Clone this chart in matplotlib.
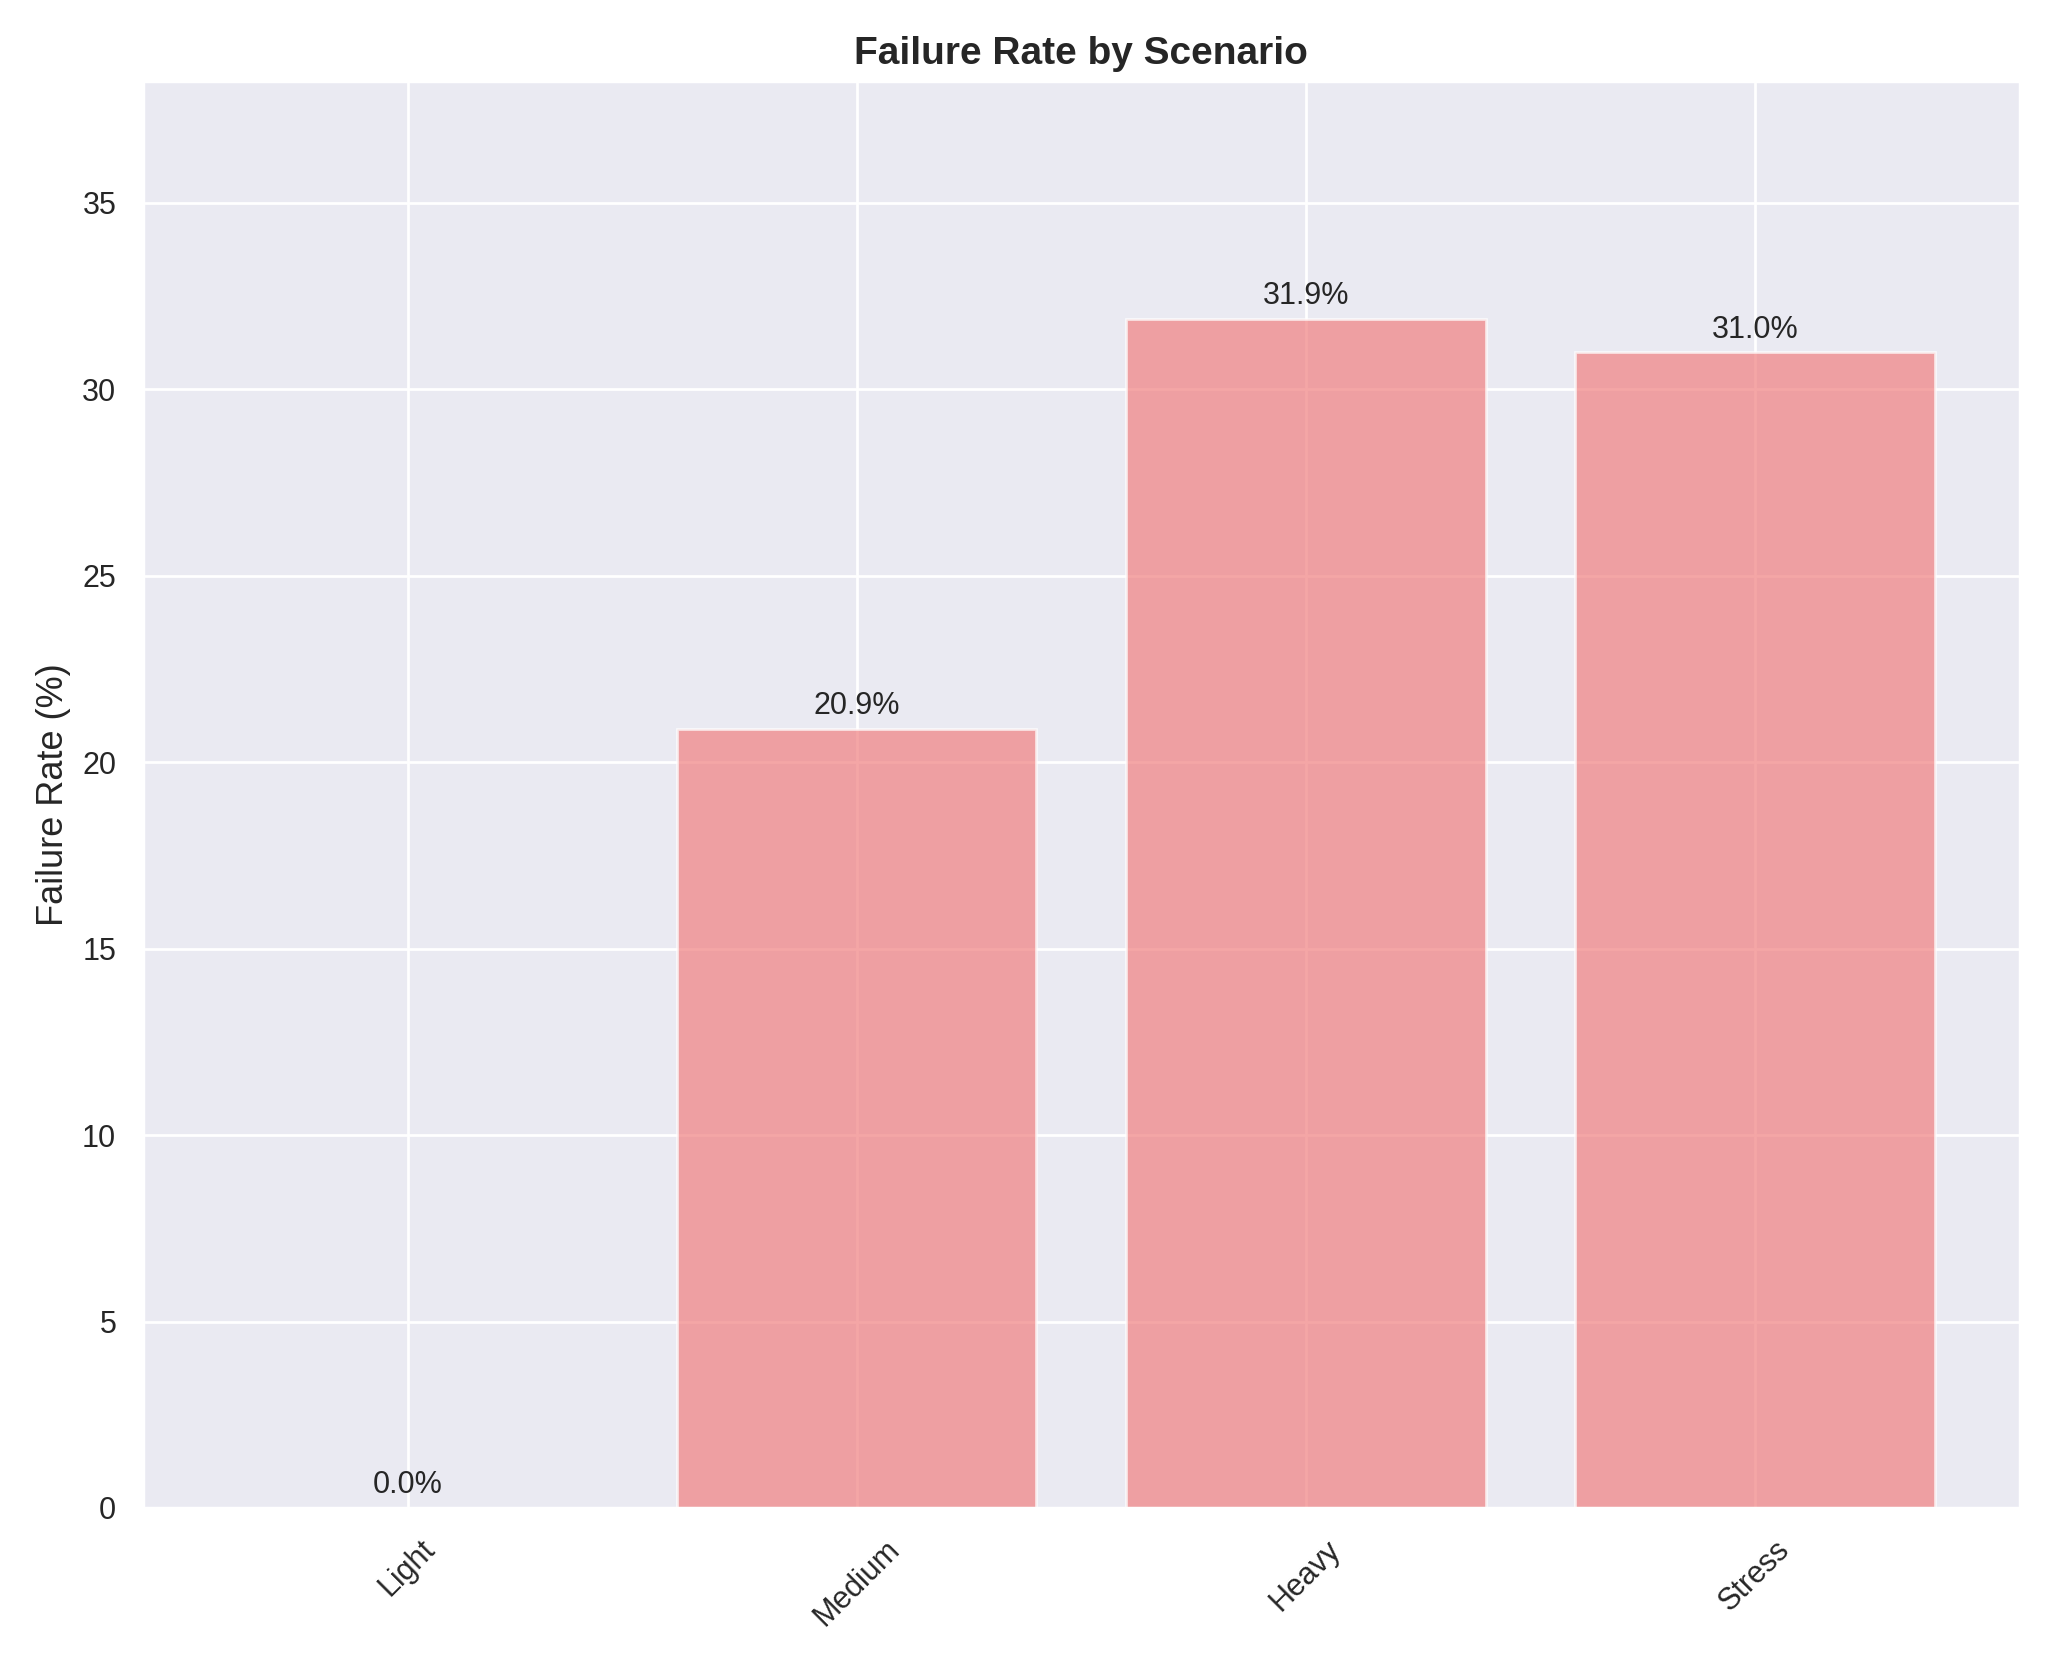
import matplotlib
matplotlib.use("Agg")
import matplotlib.pyplot as plt
import seaborn as sns

sns.set_theme(style="darkgrid")
plt.rcParams['font.family'] = ['Arial', 'Liberation Sans', 'DejaVu Sans']

scenarios = ["Light", "Medium", "Heavy", "Stress"]
failure_rates = [0.0, 20.9, 31.9, 31.0]

fig, ax = plt.subplots(figsize=(10.28, 8.34), dpi=200)
bars = ax.bar(scenarios, failure_rates, color="lightcoral", alpha=0.7)
for bar, val in zip(bars, failure_rates):
    ax.text(bar.get_x() + bar.get_width() / 2, bar.get_height() + 0.2,
            f"{val:.1f}%", ha="center", va="bottom", fontsize=11)

ax.set_ylim(0, max(failure_rates) * 1.2)
ax.set_ylabel("Failure Rate (%)", fontsize=13)
ax.set_title("Failure Rate by Scenario", fontsize=14, fontweight="bold")
plt.setp(ax.get_xticklabels(), rotation=45)
ax.tick_params(labelsize=11)
plt.tight_layout()
plt.savefig("out.png")
